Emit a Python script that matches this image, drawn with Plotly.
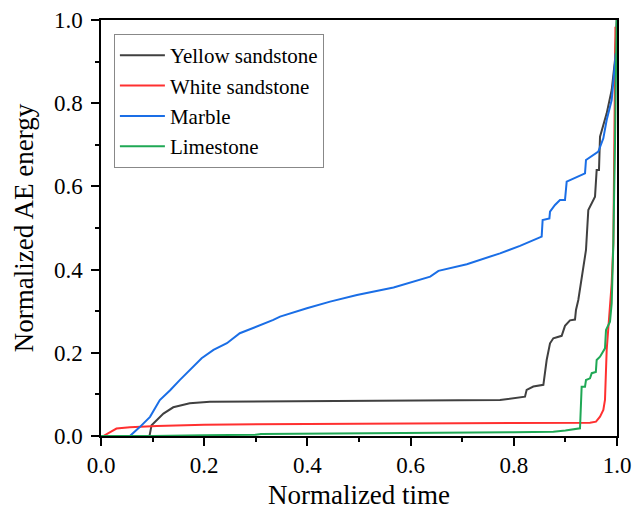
import plotly.graph_objects as go

series_names = ["Yellow sandstone", "White sandstone", "Marble", "Limestone"]
colors = ["#404040", "#FF3030", "#1A6EE6", "#1FA855"]

yellow_x = [0.0, 0.094, 0.098, 0.108, 0.121, 0.140, 0.172, 0.211, 0.30, 0.40, 0.50, 0.60, 0.70,
            0.7733, 0.8217, 0.8249, 0.8378, 0.8573, 0.8637, 0.8702, 0.8766, 0.8928, 0.8992,
            0.9089, 0.9186, 0.9205, 0.9250, 0.9315, 0.9399, 0.9444, 0.9509, 0.9574, 0.9606,
            0.9651, 0.9671, 0.9767, 0.9800, 0.9897, 0.9961, 0.9994]
yellow_y = [0.0, 0.0, 0.026, 0.038, 0.054, 0.069, 0.0785, 0.0825, 0.083, 0.084, 0.084, 0.085, 0.086,
            0.0865, 0.0946, 0.111, 0.119, 0.123, 0.1827, 0.2228, 0.2348, 0.2408, 0.2648,
            0.2780, 0.2800, 0.3029, 0.3270, 0.3830, 0.4471, 0.5433, 0.5593, 0.5753, 0.6394,
            0.6394, 0.7196, 0.7596, 0.7756, 0.8317, 0.9038, 1.0]

white_x = [0.0, 0.0045, 0.030, 0.056, 0.108, 0.172, 0.20, 0.40, 0.60, 0.80, 0.9477, 0.9593,
           0.9671, 0.9735, 0.9767, 0.9800, 0.9851, 0.9897, 0.9929, 0.9955, 0.9970]
white_y = [0.0, 0.0, 0.018, 0.021, 0.024, 0.026, 0.027, 0.029, 0.030, 0.031, 0.032, 0.0345,
           0.0465, 0.0625, 0.0865, 0.2067, 0.2869, 0.3670, 0.4631, 0.7837, 0.9840]

marble_x = [0.0, 0.056, 0.0756, 0.095, 0.114, 0.134, 0.153, 0.172, 0.195, 0.218, 0.244, 0.269,
            0.302, 0.334, 0.347, 0.366, 0.399, 0.444, 0.496, 0.567, 0.638, 0.654, 0.709,
            0.7733, 0.812, 0.854, 0.8559, 0.8690, 0.8702, 0.8798, 0.8895, 0.8992, 0.9025,
            0.9380, 0.9399, 0.9638, 0.9735, 0.9800, 0.9897, 0.9961, 0.9975]
marble_y = [0.0, 0.0, 0.022, 0.046, 0.0865, 0.110, 0.135, 0.159, 0.187, 0.207, 0.223, 0.247,
            0.263, 0.279, 0.287, 0.295, 0.307, 0.323, 0.339, 0.357, 0.383, 0.397, 0.413,
            0.4391, 0.457, 0.4792, 0.5192, 0.5232, 0.5393, 0.5553, 0.5673, 0.5673, 0.6114,
            0.6314, 0.6635, 0.6835, 0.7155, 0.7596, 0.8077, 0.8958, 0.92]

lime_x = [0.0, 0.10, 0.20, 0.30, 0.31, 0.50, 0.60, 0.75, 0.80, 0.8766, 0.90, 0.9283, 0.9296,
          0.9315, 0.9380, 0.9399, 0.9477, 0.9510, 0.9590, 0.9606, 0.9671, 0.9767, 0.9787,
          0.9864, 0.9897, 0.9929, 0.9961, 0.9994]
lime_y = [0.0, 0.0, 0.002, 0.003, 0.005, 0.006, 0.007, 0.008, 0.009, 0.0104, 0.013, 0.0184, 0.063,
          0.1186, 0.1186, 0.1346, 0.1386, 0.1510, 0.1540, 0.1827, 0.1907, 0.2107, 0.2548,
          0.2749, 0.3189, 0.4631, 0.7035, 1.0]

xs = [yellow_x, white_x, marble_x, lime_x]
ys = [yellow_y, white_y, marble_y, lime_y]

tick_vals = [0.0, 0.2, 0.4, 0.6, 0.8, 1.0]
tick_text = ["0.0", "0.2", "0.4", "0.6", "0.8", "1.0"]

FONT = "Liberation Serif, Times New Roman, serif"

fig = go.Figure()
for name, c, x, y in zip(series_names, colors, xs, ys):
    fig.add_trace(go.Scatter(x=x, y=y, mode="lines", name=name,
                             line=dict(color=c, width=2)))

axis_common = dict(
    range=[0, 1], showgrid=False, zeroline=False, automargin=False,
    showline=True, linecolor="black", linewidth=1.5, mirror=True,
    ticks="outside", ticklen=8, tickwidth=1.5, tickcolor="black",
    tickvals=tick_vals, ticktext=tick_text,
    tickfont=dict(family=FONT, size=23, color="black"),
    minor=dict(ticks="outside", ticklen=4, tickwidth=1.5, tickcolor="black", dtick=0.1, tick0=0),
)

fig.update_layout(
    width=634, height=510,
    margin=dict(l=101, r=17, t=20, b=74),
    paper_bgcolor="white", plot_bgcolor="white",
    font=dict(family=FONT, color="black"),
    xaxis=dict(**axis_common,
               title=dict(text="Normalized time", font=dict(family=FONT, size=27), standoff=12)),
    yaxis=dict(**axis_common, ticklabelstandoff=4,
               title=dict(text="Normalized AE energy", font=dict(family=FONT, size=27), standoff=12)),
    legend=dict(x=0.025, y=0.966, xanchor="left", yanchor="top",
                bgcolor="white", bordercolor="#888888", borderwidth=1,
                font=dict(family=FONT, size=21, color="black"),
                itemwidth=45, tracegroupgap=0),
    showlegend=True,
)

fig.write_html("out.html")
